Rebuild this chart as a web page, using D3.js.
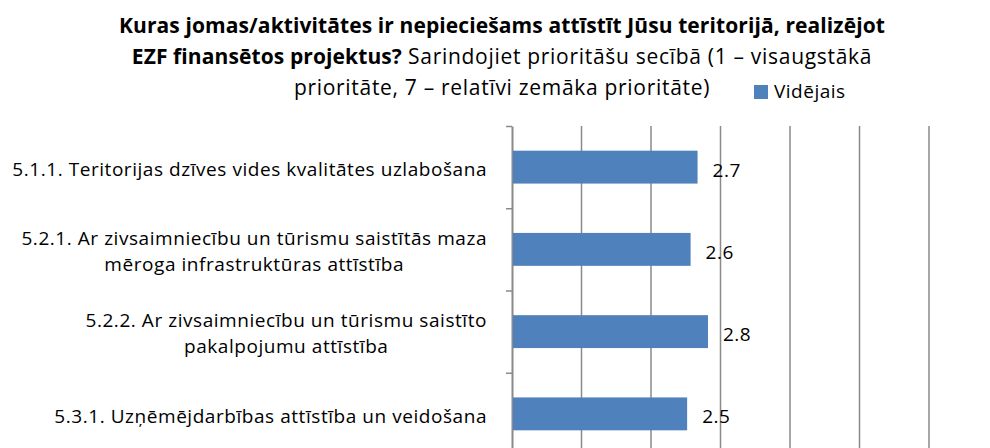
<!DOCTYPE html>
<html>
<head>
<meta charset="utf-8">
<script src="https://cdn.jsdelivr.net/npm/d3@7/dist/d3.min.js"></script>
<style>
  html, body { margin: 0; padding: 0; background: #fff; }
  svg { display: block; font-family: "Open Sans", Lato, sans-serif; }
</style>
</head>
<body>
<div id="chart"></div>
<script>
// chart data
const categories = [
  ["5.1.1. Teritorijas dzīves vides kvalitātes uzlabošana"],
  ["5.2.1. Ar zivsaimniecību un tūrismu saistītās maza", "mēroga infrastruktūras attīstība"],
  ["5.2.2. Ar zivsaimniecību un tūrismu saistīto", "pakalpojumu attīstība"],
  ["5.3.1. Uzņēmējdarbības attīstība un veidošana"]
];
const averages = [2.67, 2.57, 2.82, 2.52];
const xTicks = [0, 1, 2, 3, 4, 5, 6, 7];
const seriesName = "Vidējais";
const titleLines = [
  [{ t: "Kuras jomas/aktivitātes ir nepieciešams attīstīt Jūsu teritorijā, realizējot", b: true }],
  [{ t: "EZF finansētos projektus?", b: true }, { t: " Sarindojiet prioritāšu secībā (1 – visaugstākā", b: false }],
  [{ t: "prioritāte, 7 – relatīvi zemāka prioritāte)", b: false }]
];

const width = 990, height = 448;
const margin = { top: 126, left: 512 };
const plotBottom = 455;
const barColor = "#4F81BD";
const gridColor = "#8a8a8a";

const svg = d3.select("#chart").append("svg")
  .attr("width", width)
  .attr("height", height);

svg.append("rect").attr("width", width).attr("height", height).attr("fill", "#fff");

const ids = categories.map((c, i) => i);

const x = d3.scaleLinear()
  .domain([0, 7])
  .range([margin.left, margin.left + 7 * 69.5]);

const y = d3.scaleBand()
  .domain(ids)
  .range([margin.top, plotBottom])
  .paddingInner(0.6)
  .paddingOuter(0.3);

// gridlines
svg.append("g")
  .selectAll("line")
  .data(xTicks.filter(d => d > 0))
  .join("line")
  .attr("x1", d => x(d)).attr("x2", d => x(d))
  .attr("y1", margin.top).attr("y2", plotBottom)
  .attr("stroke", gridColor)
  .attr("stroke-width", 1.5);

// category axis with boundary ticks
const yEdge = d3.scaleLinear().domain([0, categories.length]).range([margin.top, plotBottom]);
const yAxis = svg.append("g")
  .attr("transform", `translate(${margin.left},0)`)
  .call(d3.axisLeft(yEdge).ticks(categories.length).tickSize(6).tickSizeOuter(0).tickFormat(""));
yAxis.select(".domain").attr("stroke", gridColor).attr("stroke-width", 2);
yAxis.selectAll(".tick line").attr("stroke", gridColor).attr("stroke-width", 1.5);

// bars
svg.append("g")
  .selectAll("rect")
  .data(averages)
  .join("rect")
  .attr("x", x(0) + 1)
  .attr("y", (d, i) => y(i))
  .attr("width", d => x(d) - x(0) - 1)
  .attr("height", y.bandwidth())
  .attr("fill", barColor);

// value labels
svg.append("g")
  .selectAll("text")
  .data(averages)
  .join("text")
  .attr("x", d => x(d) + 15)
  .attr("y", (d, i) => y(i) + y.bandwidth() / 2)
  .attr("dy", "0.5em")
  .attr("font-size", 19)
  .attr("letter-spacing", 0.5)
  .attr("fill", "#000")
  .text(d => d3.format(".1f")(d));

// category labels: lines centred inside a block that is right-aligned to the axis
const labelRight = 487;
const lineH = 26;
const labels = svg.append("g").selectAll("text")
  .data(categories)
  .join("text")
  .attr("font-size", 19)
  .attr("letter-spacing", 0.55)
  .attr("fill", "#000")
  .attr("text-anchor", "middle");
labels.each(function (lines, i) {
  const t = d3.select(this);
  const cy = y(i) + y.bandwidth() / 2;
  lines.forEach((ln, k) => {
    t.append("tspan")
      .attr("y", cy + (k - (lines.length - 1) / 2) * lineH)
      .attr("dy", "0.46em")
      .text(ln);
  });
  const w = d3.max(t.selectAll("tspan").nodes(), n => n.getComputedTextLength());
  t.selectAll("tspan").attr("x", labelRight - w / 2);
});

// title
const title = svg.append("text")
  .attr("text-anchor", "middle")
  .attr("font-size", 21)
  .attr("fill", "#000");
titleLines.forEach((parts, k) => {
  const line = title.append("tspan").attr("x", 502).attr("y", 33 + k * 31);
  parts.forEach(p => {
    line.append("tspan")
      .attr("font-weight", p.b ? "bold" : "normal")
      .attr("letter-spacing", p.b ? 0.1 : 0.7)
      .text(p.t);
  });
});

// legend
const legend = svg.append("g").attr("transform", "translate(754,85)");
legend.append("rect").attr("width", 14).attr("height", 14).attr("fill", barColor);
legend.append("text")
  .attr("x", 20).attr("y", 13)
  .attr("font-size", 19)
  .attr("letter-spacing", 0.5)
  .attr("fill", "#000")
  .text(seriesName);
</script>
</body>
</html>
